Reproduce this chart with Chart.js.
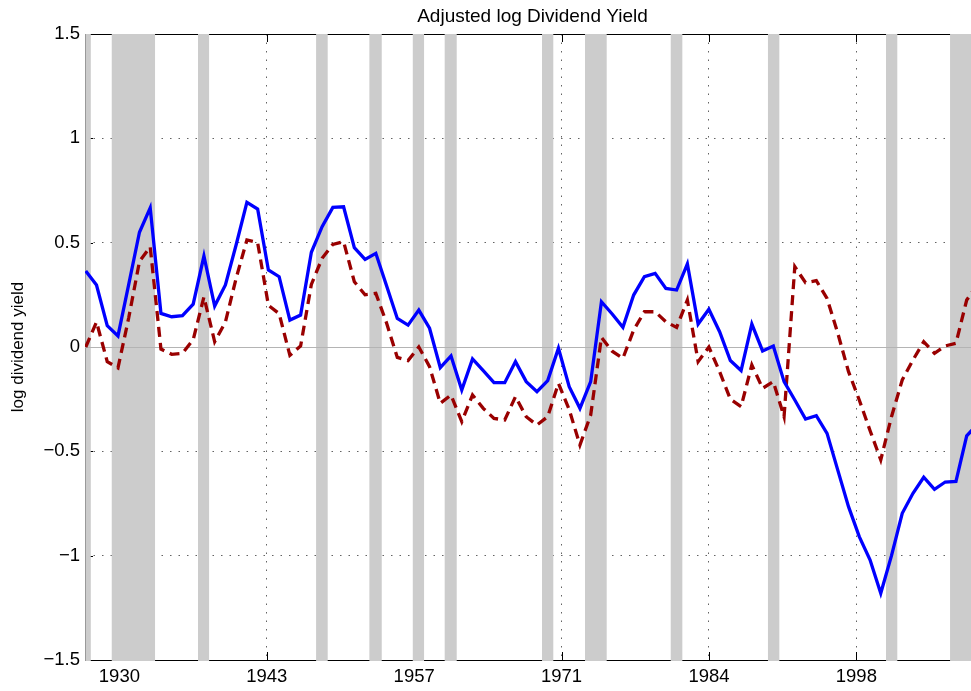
<!DOCTYPE html>
<html>
<head>
<meta charset="utf-8">
<script src="https://cdn.jsdelivr.net/npm/chart.js@4.4.1/dist/chart.umd.min.js"></script>
<style>
  html, body { margin: 0; padding: 0; background: #fff; }
  #wrap { width: 971px; height: 691px; }
</style>
</head>
<body>
<div id="wrap"><canvas id="chart" width="971" height="691"></canvas></div>
<script>
const years = [
  1927, 1928, 1929, 1930, 1931, 1932, 1933, 1934, 1935, 1936,
  1937, 1938, 1939, 1940, 1941, 1942, 1943, 1944, 1945, 1946,
  1947, 1948, 1949, 1950, 1951, 1952, 1953, 1954, 1955, 1956,
  1957, 1958, 1959, 1960, 1961, 1962, 1963, 1964, 1965, 1966,
  1967, 1968, 1969, 1970, 1971, 1972, 1973, 1974, 1975, 1976,
  1977, 1978, 1979, 1980, 1981, 1982, 1983, 1984, 1985, 1986,
  1987, 1988, 1989, 1990, 1991, 1992, 1993, 1994, 1995, 1996,
  1997, 1998, 1999, 2000, 2001, 2002, 2003, 2004, 2005, 2006,
  2007, 2008, 2009, 2010
];

// solid blue line
const logDivYield = [
  0.364, 0.297, 0.102, 0.053, 0.30, 0.55, 0.667, 0.161, 0.145, 0.15,
  0.205, 0.436, 0.196, 0.297, 0.49, 0.693, 0.661, 0.369, 0.337, 0.129,
  0.153, 0.454, 0.577, 0.669, 0.672, 0.476, 0.420, 0.449, 0.294, 0.137,
  0.105, 0.177, 0.09, -0.099, -0.043, -0.206, -0.057, -0.113, -0.171, -0.171,
  -0.07, -0.166, -0.214, -0.161, -0.006, -0.19, -0.294, -0.166, 0.217, 0.158,
  0.094, 0.249, 0.337, 0.353, 0.281, 0.273, 0.398, 0.110, 0.181, 0.073,
  -0.065, -0.113, 0.110, -0.019, 0.005, -0.166, -0.254, -0.345, -0.329, -0.414,
  -0.59, -0.765, -0.909, -1.02, -1.18, -1.0, -0.797, -0.701, -0.624, -0.682,
  -0.647, -0.644, -0.426, -0.37
];

// dashed dark red line
const adjLogDivYield = [
  0.0, 0.12, -0.07, -0.10, 0.14, 0.41, 0.48, -0.01, -0.035, -0.03,
  0.035, 0.24, 0.025, 0.12, 0.33, 0.513, 0.50, 0.20, 0.16, -0.04,
  0.005, 0.30, 0.425, 0.492, 0.505, 0.313, 0.25, 0.257, 0.115, -0.05,
  -0.065, 0.0, -0.094, -0.27, -0.23, -0.358, -0.23, -0.294, -0.342, -0.35,
  -0.238, -0.334, -0.374, -0.334, -0.174, -0.30, -0.47, -0.326, 0.046, -0.02,
  -0.054, 0.081, 0.169, 0.169, 0.121, 0.094, 0.225, -0.07, 0.0, -0.118,
  -0.25, -0.286, -0.086, -0.198, -0.166, -0.334, 0.385, 0.308, 0.318, 0.233,
  0.066, -0.118, -0.254, -0.40, -0.541, -0.334, -0.158, -0.062, 0.025, -0.03,
  0.005, 0.018, 0.225, 0.30
];

// shaded recession periods [start, end]
const recessions = [
  [1926.5, 1927.47], [1929.42, 1933.45], [1937.45, 1938.48], [1948.44, 1949.52],
  [1953.40, 1954.55], [1957.44, 1958.49], [1960.41, 1961.53], [1969.47, 1970.52],
  [1973.47, 1975.49], [1981.45, 1982.53], [1990.50, 1991.56], [2001.49, 2002.54],
  [2007.45, 2011]
];

const xTickPos = [1930.13, 1943.85, 1957.57, 1971.29, 1985.01, 1998.73];
const xTickLabels = ['1930', '1943', '1957', '1971', '1984', '1998'];

const FONT = '"Liberation Sans", Arial, Helvetica, sans-serif';

const toPoints = vals => years.map((yr, i) => ({ x: yr, y: vals[i] }));

const frame = {
  id: 'frame',
  beforeDatasetsDraw(chart) {
    const { ctx, chartArea: a, scales: { x, y } } = chart;
    ctx.save();
    // box lines and inward ticks (covered later by the bands)
    ctx.strokeStyle = '#000';
    ctx.lineWidth = 1;
    ctx.beginPath();
    ctx.moveTo(a.left, a.top + 0.5); ctx.lineTo(a.right, a.top + 0.5);
    ctx.moveTo(a.left, a.bottom + 0.5); ctx.lineTo(a.right, a.bottom + 0.5);
    x.ticks.forEach(t => {
      const px = Math.round(x.getPixelForValue(t.value)) + 0.5;
      ctx.moveTo(px, a.top); ctx.lineTo(px, a.top + 8);
      ctx.moveTo(px, a.bottom); ctx.lineTo(px, a.bottom - 8);
    });
    y.ticks.forEach(t => {
      const py = Math.round(y.getPixelForValue(t.value)) + 0.5;
      ctx.moveTo(a.left, py); ctx.lineTo(a.left + 8, py);
    });
    ctx.stroke();

    // recession bands
    ctx.fillStyle = '#cccccc';
    recessions.forEach(([s, e]) => {
      const x1 = Math.max(a.left, x.getPixelForValue(s));
      const x2 = Math.min(a.right, x.getPixelForValue(e));
      if (x2 > x1) ctx.fillRect(x1, a.top, x2 - x1, a.bottom - a.top + 1);
    });

    // left axis line
    ctx.strokeStyle = '#999';
    ctx.beginPath();
    ctx.moveTo(a.left + 0.5, a.top); ctx.lineTo(a.left + 0.5, a.bottom + 1);
    ctx.stroke();

    // zero line
    const y0 = Math.round(y.getPixelForValue(0)) + 0.5;
    ctx.strokeStyle = '#b4b4b4';
    ctx.beginPath();
    ctx.moveTo(a.left, y0); ctx.lineTo(a.right, y0);
    ctx.stroke();
    ctx.restore();
  },
  afterDraw(chart) {
    const { ctx } = chart;
    ctx.save();
    ctx.fillStyle = '#000';
    ctx.font = '19px ' + FONT;
    ctx.textAlign = 'center';
    ctx.textBaseline = 'alphabetic';
    ctx.fillText('Adjusted log Dividend Yield', 532.5, 22);

    ctx.font = '17px ' + FONT;
    ctx.translate(18, 347);
    ctx.rotate(-Math.PI / 2);
    ctx.textBaseline = 'middle';
    ctx.fillText('log dividend yield', 0, 0);
    ctx.restore();
  }
};

new Chart(document.getElementById('chart'), {
  type: 'line',
  data: {
    datasets: [
      {
        data: toPoints(logDivYield),
        borderColor: '#0000ff',
        borderWidth: 3.3,
        pointRadius: 0,
        tension: 0,
        fill: false
      },
      {
        data: toPoints(adjLogDivYield),
        borderColor: '#990000',
        borderWidth: 3.3,
        borderDash: [10, 6],
        pointRadius: 0,
        tension: 0,
        fill: false
      }
    ]
  },
  options: {
    responsive: false,
    animation: false,
    layout: { padding: { top: 34, left: 0, right: 0, bottom: 0 } },
    plugins: {
      legend: { display: false },
      tooltip: { enabled: false },
      title: { display: false }
    },
    scales: {
      x: {
        type: 'linear',
        min: 1926.93,
        max: 2009.4,
        afterBuildTicks: scale => {
          scale.ticks = xTickPos.map(v => ({ value: v }));
        },
        afterFit: scale => { scale.height = 31; },
        grid: { color: 'rgba(60,60,60,0.8)', lineWidth: 1, drawTicks: false },
        border: { display: false, dash: [1.5, 7] },
        ticks: {
          autoSkip: false,
          maxRotation: 0,
          padding: 6,
          color: '#000',
          font: { size: 18.5, family: FONT },
          callback: (v, i) => xTickLabels[i]
        }
      },
      y: {
        min: -1.5,
        max: 1.5,
        afterFit: scale => { scale.width = 85; },
        grid: { color: 'rgba(60,60,60,0.8)', lineWidth: 1, drawTicks: false },
        border: { display: false, dash: [1.5, 7] },
        ticks: {
          stepSize: 0.5,
          padding: 5,
          color: '#000',
          font: { size: 18.5, family: FONT },
          callback: v => (v === 0 ? '0' : String(v).replace('-', '\u2212'))
        }
      }
    }
  },
  plugins: [frame]
});
</script>
</body>
</html>
